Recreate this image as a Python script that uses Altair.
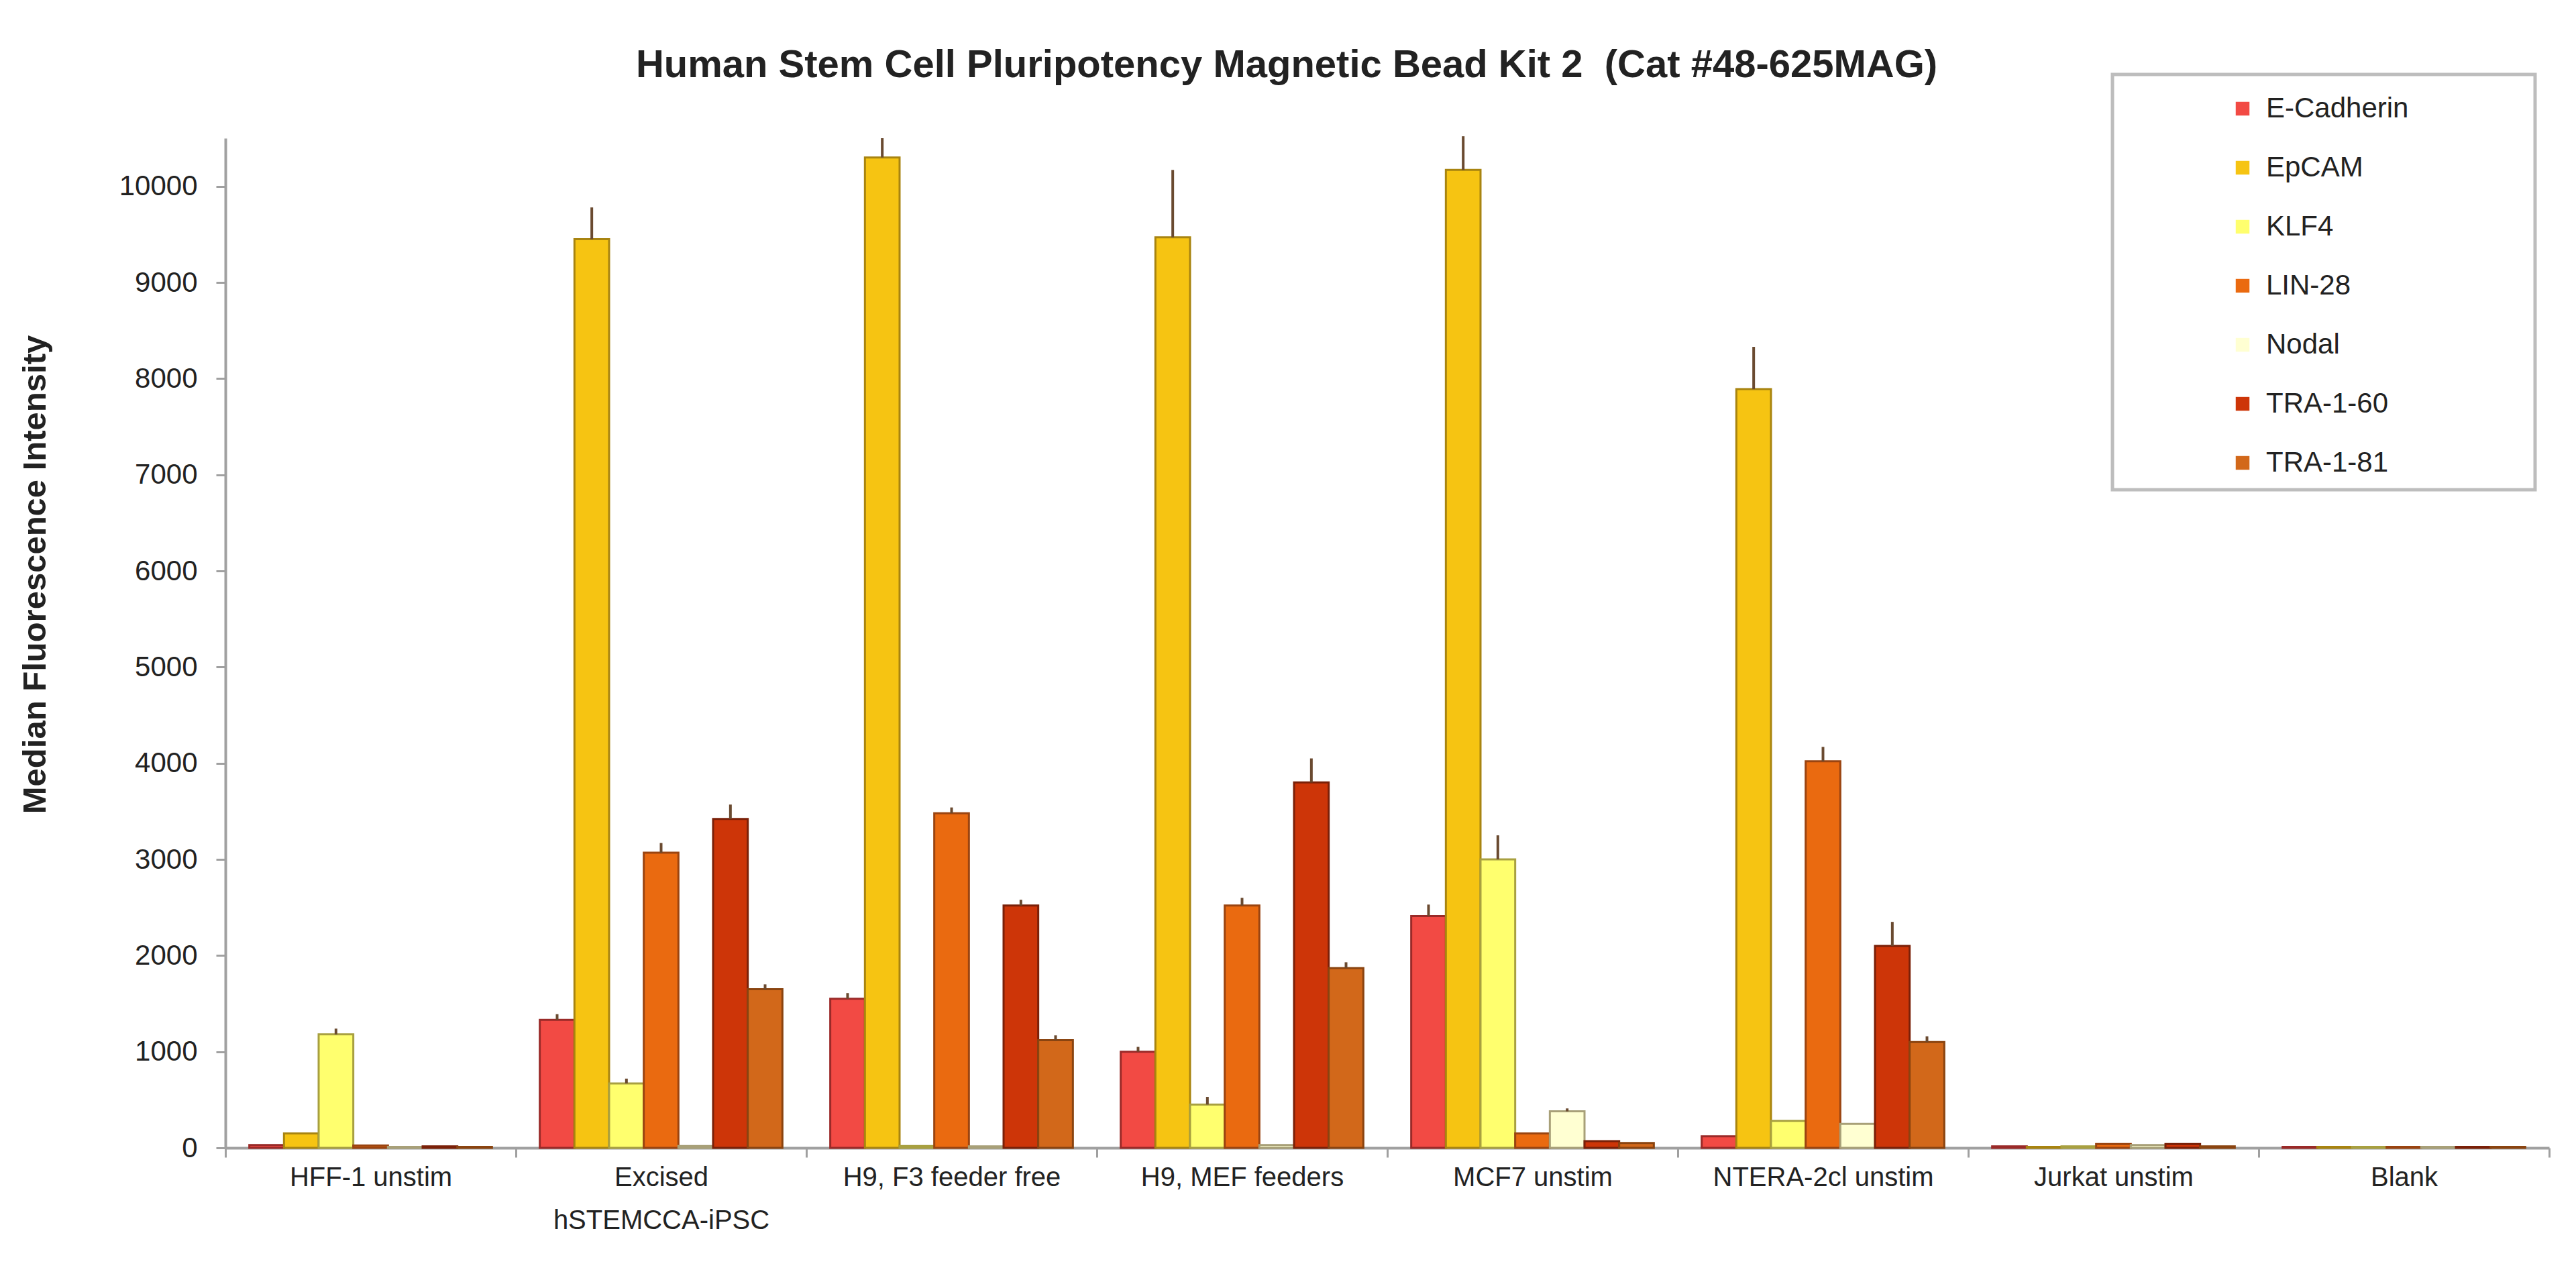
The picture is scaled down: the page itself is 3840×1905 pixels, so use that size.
import altair as alt
import pandas as pd

categories = ["HFF-1 unstim", "Excised|hSTEMCCA-iPSC", "H9, F3 feeder free", "H9, MEF feeders",
              "MCF7 unstim", "NTERA-2cl unstim", "Jurkat unstim", "Blank"]
markers = ["E-Cadherin", "EpCAM", "KLF4", "LIN-28", "Nodal", "TRA-1-60", "TRA-1-81"]
colors = ["#F24A44", "#F6C412", "#FFFF6E", "#EA6A10", "#FFFFD2", "#CD3508", "#D2681A"]
edges = ["#9A2A28", "#A88410", "#A8A040", "#9A4410", "#A8A078", "#7A2008", "#8A4410"]

# Median fluorescence intensity per cell type (order = categories)
e_cadherin = [30, 1330, 1550, 1000, 2410, 120, 15, 10]
epcam = [150, 9450, 10300, 9470, 10170, 7890, 10, 10]
klf4 = [1180, 670, 20, 450, 3000, 280, 15, 10]
lin28 = [25, 3070, 3480, 2520, 150, 4020, 40, 10]
nodal = [10, 20, 15, 30, 380, 250, 30, 10]
tra160 = [15, 3420, 2520, 3800, 70, 2100, 40, 10]
tra181 = [10, 1650, 1120, 1870, 50, 1100, 15, 10]

# upper error bar lengths
e_cadherin_err = [0, 60, 60, 50, 120, 0, 0, 0]
epcam_err = [0, 330, 200, 700, 350, 440, 0, 0]
klf4_err = [60, 50, 0, 80, 250, 0, 0, 0]
lin28_err = [0, 100, 60, 80, 0, 150, 0, 0]
nodal_err = [0, 0, 0, 0, 30, 0, 0, 0]
tra160_err = [0, 150, 60, 250, 0, 250, 0, 0]
tra181_err = [0, 50, 50, 60, 0, 60, 0, 0]

series = [e_cadherin, epcam, klf4, lin28, nodal, tra160, tra181]
errors = [e_cadherin_err, epcam_err, klf4_err, lin28_err, nodal_err, tra160_err, tra181_err]

rows = []
for m, vals, errs in zip(markers, series, errors):
    for c, v, e in zip(categories, vals, errs):
        rows.append({"cell": c, "marker": m, "value": v, "hi": v + e})
df = pd.DataFrame(rows)

FONT = "Liberation Sans"

x_enc = alt.X("cell:N", sort=categories,
              scale=alt.Scale(paddingInner=0, paddingOuter=0),
              axis=alt.Axis(title=None, labelAngle=0, labelFontSize=40, labelFont=FONT,
                            labelColor="#222222", labelPadding=10,
                            labelExpr="split(datum.label, '|')", labelLineHeight=64,
                            tickBand="extent", tickSize=14, tickWidth=3, tickColor="#A0A0A0",
                            domainColor="#A0A0A0", domainWidth=4, labelLimit=0))
xo_enc = alt.XOffset("marker:N", sort=markers,
                     scale=alt.Scale(paddingInner=0, paddingOuter=0.69))
y_scale = alt.Scale(domain=[0, 10500], nice=False)

bars = alt.Chart(df).mark_bar(strokeWidth=3).encode(
    x=x_enc,
    xOffset=xo_enc,
    y=alt.Y("value:Q", scale=y_scale,
            axis=alt.Axis(title="Median Fluorescence Intensity", values=list(range(0, 10001, 1000)),
                          format="d", grid=False, labelFontSize=42, labelFont=FONT,
                          labelColor="#222222", labelPadding=28, tickSize=14, tickWidth=3,
                          tickColor="#A0A0A0", domainColor="#A0A0A0", domainWidth=4,
                          titleFontSize=49, titleFont=FONT, titleFontWeight="bold",
                          titleColor="#222222", titlePadding=100, titleY=650)),
    color=alt.Color("marker:N", sort=markers, scale=alt.Scale(domain=markers, range=colors),
                    legend=alt.Legend(title=None, orient="none", legendX=2986, legendY=-65,
                                      symbolType="square", symbolSize=420, symbolStrokeWidth=0,
                                      labelFontSize=42, labelFont=FONT, labelColor="#222222",
                                      rowPadding=46, labelOffset=14, labelLimit=0)),
    stroke=alt.Stroke("marker:N", sort=markers, scale=alt.Scale(domain=markers, range=edges),
                      legend=None),
)

errbars = alt.Chart(df).transform_filter("datum.hi > datum.value").mark_rule(
    color="#6A4A30", strokeWidth=4).encode(
    x=alt.X("cell:N", sort=categories),
    xOffset=alt.XOffset("marker:N", sort=markers),
    y=alt.Y("value:Q", scale=y_scale),
    y2="hi:Q",
)

box = alt.Chart(pd.DataFrame({"k": [0]})).mark_rect(
    fill="white", stroke="#BDBDBD", strokeWidth=5).encode(
    x=alt.value(2813), x2=alt.value(3443), y=alt.value(-95), y2=alt.value(524))

chart = alt.layer(bars, errbars, box).properties(
    width=3464, height=1505,
    padding={"left": 20, "top": 60, "right": 5, "bottom": 5},
    title=alt.TitleParams("Human Stem Cell Pluripotency Magnetic Bead Kit 2\u00a0\u00a0(Cat #48-625MAG)",
                          fontSize=58, font=FONT, fontWeight="bold", color="#222222",
                          anchor="middle", offset=2, dx=-150, dy=20),
).configure(background="white").configure_view(stroke=None)

chart.save("out.html", embed_options={"renderer": "svg", "actions": False})
